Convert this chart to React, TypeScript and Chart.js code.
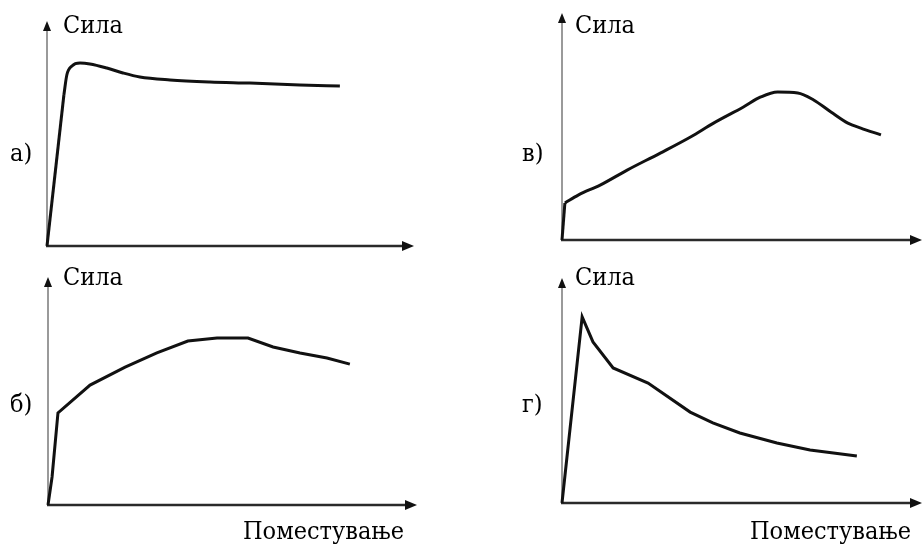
import React, { useEffect, useRef } from "react";
import { Chart, registerables } from "chart.js";

Chart.register(...registerables);

const PAGE_W = 923;
const PAGE_H = 546;

// Axis units: 0..100 along each axis (displacement / force, no ticks shown)
const aDisp = [0, 4.6, 5.4, 6.8, 9.0, 11.7, 16.3, 20.7, 25.3, 33.5, 44.4, 55.3, 68.9, 79.8];
const aForce = [0, 67.1, 76.0, 80.0, 81.3, 80.9, 79.1, 76.9, 75.1, 73.8, 72.9, 72.4, 71.6, 71.1];

const vDisp = [0, 0.8, 4.5, 10.6, 18.1, 27.3, 35.7, 42.1, 50.4, 55.2, 59.9, 65.5, 69.9, 74.7, 79.4, 83.0, 88.6];
const vForce = [0, 16.3, 19.8, 24.2, 30.8, 38.3, 45.4, 51.5, 58.6, 63.0, 65.2, 64.8, 61.7, 56.4, 51.5, 49.3, 46.3];

const bDisp = [0, 1.1, 2.7, 11.4, 20.9, 29.5, 37.9, 45.8, 54.2, 61.0, 68.3, 75.6, 81.8];
const bForce = [0, 12.3, 40.4, 52.6, 60.5, 66.7, 71.9, 73.2, 73.2, 69.3, 66.7, 64.5, 61.8];

const gDisp = [0, 5.6, 8.6, 14.2, 23.9, 35.6, 41.9, 49.4, 59.7, 68.9, 81.9];
const gForce = [0, 82.7, 71.6, 60.0, 53.3, 40.4, 35.6, 31.1, 26.7, 23.6, 20.9];

const yLabel = "Сила";
const xLabel = "Поместување";
const panelLetters = ["а)", "в)", "б)", "г)"];

type Panel = {
  disp: number[];
  force: number[];
  letter: string;
  straightUntil: number; // index up to which segments are straight; rest smoothed
  showX: boolean;
  area: { l: number; t: number; r: number; b: number };
  silaPos: [number, number];
  letterPos: [number, number];
  xLabelPos: [number, number];
};

const panels: Panel[] = [
  { disp: aDisp, force: aForce, letter: panelLetters[0], straightUntil: 1, showX: false,
    area: { l: 47, t: 21, r: 414, b: 246 }, silaPos: [63, 33], letterPos: [10, 161], xLabelPos: [0, 0] },
  { disp: vDisp, force: vForce, letter: panelLetters[1], straightUntil: 1, showX: false,
    area: { l: 562, t: 13, r: 922, b: 240 }, silaPos: [575, 33], letterPos: [522, 161], xLabelPos: [0, 0] },
  { disp: bDisp, force: bForce, letter: panelLetters[2], straightUntil: bDisp.length - 1, showX: true,
    area: { l: 48, t: 277, r: 417, b: 505 }, silaPos: [63, 285], letterPos: [10, 412], xLabelPos: [243, 539] },
  { disp: gDisp, force: gForce, letter: panelLetters[3], straightUntil: gDisp.length - 1, showX: true,
    area: { l: 562, t: 278, r: 922, b: 503 }, silaPos: [575, 285], letterPos: [522, 412], xLabelPos: [750, 539] },
];

const FONT = "25px 'DejaVu Serif Condensed', 'DejaVu Serif', serif";

function makePlugin(p: Panel) {
  return {
    id: "axesArrows",
    beforeDatasetsDraw(chart: any) {
      const ctx: CanvasRenderingContext2D = chart.ctx;
      const xs = chart.scales.x;
      const ys = chart.scales.y;
      const x0 = xs.getPixelForValue(0);
      const x1 = xs.getPixelForValue(100);
      const y0 = ys.getPixelForValue(0);
      const y1 = ys.getPixelForValue(100);
      ctx.save();
      ctx.strokeStyle = "#9a9a9a";
      ctx.lineWidth = 2;
      ctx.beginPath();
      ctx.moveTo(x0, y0);
      ctx.lineTo(x0, y1 + 6);
      ctx.stroke();
      ctx.strokeStyle = "#2a2a2a";
      ctx.lineWidth = 2.5;
      ctx.beginPath();
      ctx.moveTo(x0 - 1, y0);
      ctx.lineTo(x1 - 8, y0);
      ctx.stroke();
      ctx.fillStyle = "#111";
      ctx.beginPath();
      ctx.moveTo(x0, y1);
      ctx.lineTo(x0 - 4, y1 + 10);
      ctx.lineTo(x0 + 4, y1 + 10);
      ctx.closePath();
      ctx.fill();
      ctx.beginPath();
      ctx.moveTo(x1, y0);
      ctx.lineTo(x1 - 12, y0 - 5);
      ctx.lineTo(x1 - 12, y0 + 5);
      ctx.closePath();
      ctx.fill();
      ctx.font = FONT;
      try { (ctx as any).fontStretch = "condensed"; } catch (e) {}
      ctx.fillStyle = "#000";
      ctx.textAlign = "left";
      ctx.textBaseline = "alphabetic";
      ctx.fillText(yLabel, p.silaPos[0], p.silaPos[1]);
      ctx.fillText(p.letter, p.letterPos[0], p.letterPos[1]);
      if (p.showX) ctx.fillText(xLabel, p.xLabelPos[0], p.xLabelPos[1]);
      ctx.restore();
    },
  };
}

function PanelChart({ p }: { p: Panel }) {
  const ref = useRef<HTMLCanvasElement>(null);
  useEffect(() => {
    if (!ref.current) return;
    const pts = p.disp.map((d, i) => ({ x: d, y: p.force[i] }));
    const common = { borderColor: "#111", borderWidth: 3, pointRadius: 0, fill: false, clip: false as any };
    const datasets: any[] = [
      { ...common, data: pts.slice(0, p.straightUntil + 1), tension: 0 },
    ];
    if (p.straightUntil < pts.length - 1) {
      datasets.push({ ...common, data: pts.slice(p.straightUntil), tension: 0.4, cubicInterpolationMode: "monotone" });
    }
    const chart = new Chart(ref.current, {
      type: "line",
      data: { datasets },
      options: {
        responsive: false,
        animation: false,
        devicePixelRatio: 1,
        layout: {
          padding: { left: p.area.l, top: p.area.t, right: PAGE_W - p.area.r, bottom: PAGE_H - p.area.b },
        },
        plugins: { legend: { display: false }, tooltip: { enabled: false } },
        scales: {
          x: { type: "linear", min: 0, max: 100, display: false },
          y: { type: "linear", min: 0, max: 100, display: false },
        },
      },
      plugins: [makePlugin(p)],
    });
    return () => chart.destroy();
  }, [p]);
  return (
    <canvas
      ref={ref}
      width={PAGE_W}
      height={PAGE_H}
      style={{ position: "absolute", left: 0, top: 0, width: PAGE_W, height: PAGE_H }}
    />
  );
}

export default function App() {
  return (
    <div style={{ position: "absolute", left: 0, top: 0, width: PAGE_W, height: PAGE_H, background: "#fff", overflow: "hidden" }}>
      {panels.map((p, i) => (
        <PanelChart key={i} p={p} />
      ))}
    </div>
  );
}
